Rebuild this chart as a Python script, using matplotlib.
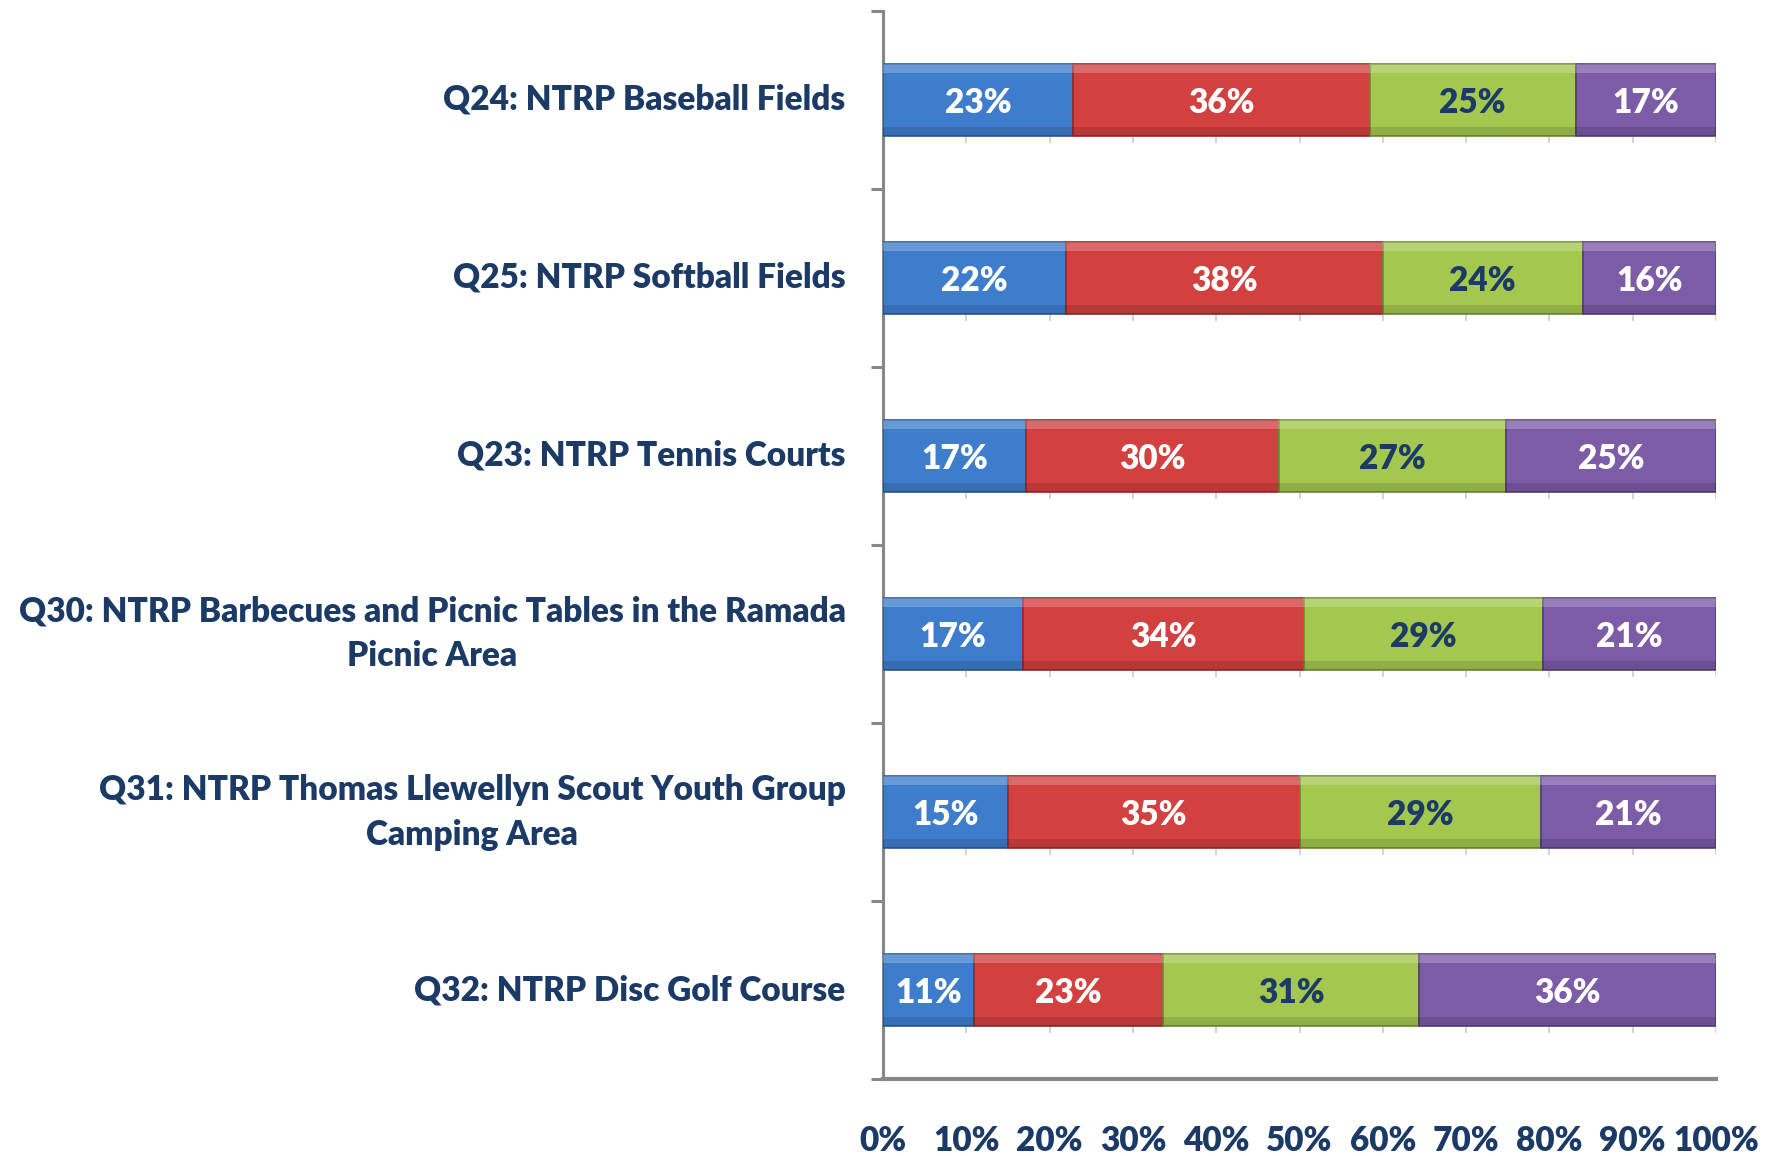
import matplotlib
matplotlib.use("Agg")
import matplotlib.pyplot as plt
import numpy as np

categories = [
    "Q24: NTRP Baseball Fields",
    "Q25: NTRP Softball Fields",
    "Q23: NTRP Tennis Courts",
    "Q30: NTRP Barbecues and Picnic Tables in the Ramada\nPicnic Area",
    "Q31: NTRP Thomas Llewellyn Scout Youth Group\nCamping Area",
    "Q32: NTRP Disc Golf Course",
]
series1 = [23, 22, 17, 17, 15, 11]
series2 = [36, 38, 30, 34, 35, 23]
series3 = [25, 24, 27, 29, 29, 31]
series4 = [17, 16, 25, 21, 21, 36]
xtick_labels = ["0%", "10%", "20%", "30%", "40%", "50%", "60%", "70%", "80%", "90%", "100%"]

fills = ["#3E7DCC", "#D2403F", "#A3C74F", "#7C5BA7"]
edges = ["#2A5A96", "#962A29", "#6F8C33", "#553D78"]
label_colors = ["white", "white", "#1B3A66", "white"]
navy = "#1B3A66"
gray = "#878787"
FONT = "Lato"
WEIGHT = "heavy"
FS = 24

data = np.array([series1, series2, series3, series4], dtype=float)
totals = data.sum(axis=0)
shares = data / totals * 100

fig = plt.figure(figsize=(17.79, 11.56), dpi=100)
ax = fig.add_axes([0.4964, 0.0666, 0.9646 - 0.4964, 0.9905 - 0.0666])

y = np.arange(len(categories))
bar_h = 0.4
left = np.zeros(len(categories))
for i in range(4):
    ax.barh(y, shares[i], left=left, height=bar_h, color=fills[i],
            edgecolor=edges[i], linewidth=1.2, zorder=3)
    ax.barh(y - bar_h / 2 + 0.025, shares[i], left=left, height=0.05,
            color="white", alpha=0.22, linewidth=0, zorder=4)
    ax.barh(y + bar_h / 2 - 0.025, shares[i], left=left, height=0.05,
            color="black", alpha=0.12, linewidth=0, zorder=4)
    for j in range(len(categories)):
        ax.text(left[j] + shares[i][j] / 2, y[j], f"{int(data[i][j])}%",
                ha="center", va="center_baseline", color=label_colors[i],
                fontsize=FS, fontweight=WEIGHT, family=FONT, zorder=5)
    left += shares[i]

# faint tick marks below each bar
xt = np.arange(10, 101, 10)
for j in range(len(categories)):
    ax.vlines(xt, y[j] + bar_h / 2, y[j] + bar_h / 2 + 0.04, color="#D0D0D0",
              linewidth=1.3, zorder=2)

ax.set_xlim(0, 100)
ax.set_ylim(len(categories) - 0.5, -0.5)

ax.set_xticks(np.arange(0, 101, 10))
ax.set_xticklabels(xtick_labels)
ax.tick_params(axis="x", length=0, pad=33)
for lab in ax.get_xticklabels():
    lab.set_fontsize(FS)
    lab.set_fontweight(WEIGHT)
    lab.set_family(FONT)
    lab.set_color(navy)

ax.set_yticks(np.arange(-0.5, len(categories), 1.0))
ax.set_yticklabels([])
ax.tick_params(axis="y", which="major", length=9, width=2.2, color=gray, direction="out")
ax.set_yticks(y, minor=True)
ax.set_yticklabels(categories, minor=True)
ax.tick_params(axis="y", which="minor", length=0, pad=27)
for lab in ax.get_yticklabels(minor=True):
    lab.set_fontsize(FS)
    lab.set_fontweight(WEIGHT)
    lab.set_family(FONT)
    lab.set_color(navy)
    lab.set_multialignment("center")
    lab.set_linespacing(1.5)
    lab.set_verticalalignment("center")

for s in ["top", "right"]:
    ax.spines[s].set_visible(False)
ax.spines["left"].set_color(gray)
ax.spines["left"].set_linewidth(2.2)
ax.spines["bottom"].set_color(gray)
ax.spines["bottom"].set_linewidth(3)
ax.set_facecolor("white")

fig.savefig("out.png", dpi=100, facecolor="white")
